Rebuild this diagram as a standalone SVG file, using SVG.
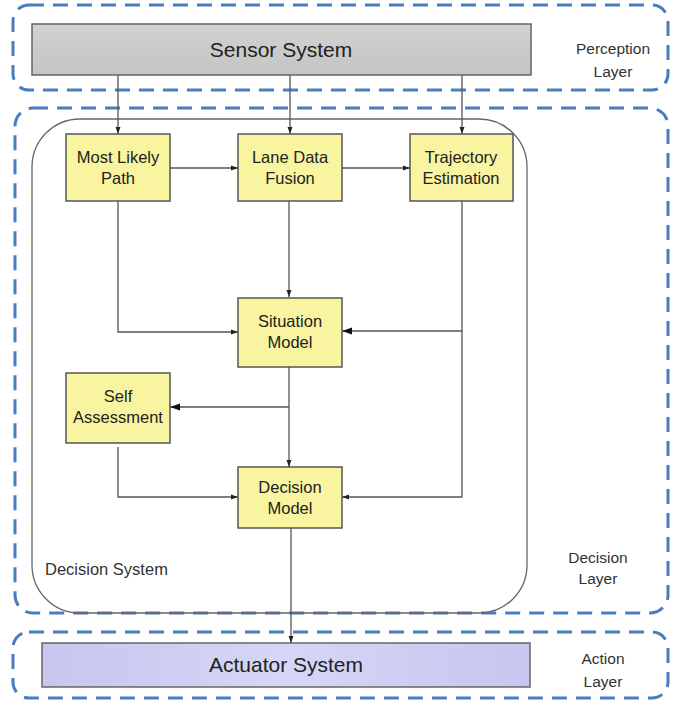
<svg xmlns="http://www.w3.org/2000/svg" width="676" height="705" viewBox="0 0 676 705">
<defs>
<linearGradient id="gGray" x1="0" y1="0" x2="0" y2="1"><stop offset="0" stop-color="#d2d2d2"/><stop offset="1" stop-color="#c4c4c4"/></linearGradient>
<linearGradient id="gLav" x1="0" y1="0" x2="1" y2="0"><stop offset="0" stop-color="#c6c6f0"/><stop offset="0.5" stop-color="#d6d6f6"/><stop offset="1" stop-color="#c6c6f0"/></linearGradient>
<marker id="ah" viewBox="0 0 10 10" refX="10" refY="5" markerWidth="7" markerHeight="7" markerUnits="userSpaceOnUse" orient="auto"><path d="M0,1.5 L10,5 L0,8.5 Z" fill="#222"/></marker>
<marker id="ahL" viewBox="0 0 10 10" refX="10" refY="5" markerWidth="14" markerHeight="10" markerUnits="userSpaceOnUse" orient="auto"><path d="M0,1.5 L10,5 L0,8.5 Z" fill="#111"/></marker>
</defs>
<style>
.layer{fill:none;stroke:#4a7cc0;stroke-width:3;stroke-dasharray:15 9}
.box{fill:#f8f4a0;stroke:#555;stroke-width:1.5}
.t{font-family:"Liberation Sans",Arial,sans-serif;fill:#222;text-anchor:middle}
.bt{font-size:16.5px}
.lt{font-size:15.5px;fill:#333}
.c{fill:none;stroke:#555;stroke-width:1.3}
</style>
<rect width="676" height="705" fill="#fff"/>
<g id="perception-layer">
<rect class="layer" x="13" y="5" width="655" height="85" rx="16"/>
<text class="t lt" x="613" y="54">Perception</text>
<text class="t lt" x="613" y="77">Layer</text>
</g>
<g id="decision-layer">
<rect class="layer" x="15" y="108" width="653" height="505" rx="18"/>
<text class="t lt" x="598" y="563">Decision</text>
<text class="t lt" x="598" y="584">Layer</text>
</g>
<g id="action-layer">
<rect class="layer" x="13" y="632" width="655" height="66" rx="16"/>
<text class="t lt" x="603" y="664">Action</text>
<text class="t lt" x="603" y="687">Layer</text>
</g>
<g id="decision-system">
<rect x="32" y="119" width="495" height="494" rx="48" fill="none" stroke="#666" stroke-width="1.3"/>
<text x="45" y="575" font-family="Liberation Sans,Arial,sans-serif" font-size="16.5" fill="#333">Decision System</text>
</g>
<g id="connectors">
<line class="c" x1="118" y1="75" x2="118" y2="134" marker-end="url(#ah)"/>
<line class="c" x1="290" y1="75" x2="290" y2="134" marker-end="url(#ah)"/>
<line class="c" x1="462" y1="75" x2="462" y2="134" marker-end="url(#ah)"/>
<line class="c" x1="170" y1="168" x2="238" y2="168" marker-end="url(#ah)"/>
<line class="c" x1="342" y1="168" x2="410" y2="168" marker-end="url(#ah)"/>
<line class="c" x1="289" y1="201" x2="289" y2="297" marker-end="url(#ah)"/>
<polyline class="c" points="118,201 118,332 238,332" marker-end="url(#ah)"/>
<polyline class="c" points="462,201 462,331 342,331" marker-end="url(#ahL)"/>
<line class="c" x1="289" y1="367" x2="289" y2="467" marker-end="url(#ah)"/>
<line class="c" x1="289" y1="407" x2="170" y2="407" marker-end="url(#ahL)"/>
<polyline class="c" points="118,447 118,497 238,497" marker-end="url(#ah)"/>
<polyline class="c" points="462,331 462,497 342,497" marker-end="url(#ah)"/>
<line class="c" x1="291" y1="528" x2="291" y2="643" marker-end="url(#ah)"/>
</g>
<g id="sensor-system">
<rect x="32" y="24" width="499" height="51" fill="url(#gGray)" stroke="#666" stroke-width="1.5"/>
<text class="t" x="281" y="57" font-size="21">Sensor System</text>
</g>
<g id="most-likely-path">
<rect class="box" x="66" y="134" width="104" height="67"/>
<text class="t bt" x="118" y="163">Most Likely</text>
<text class="t bt" x="118" y="184">Path</text>
</g>
<g id="lane-data-fusion">
<rect class="box" x="238" y="134" width="104" height="67"/>
<text class="t bt" x="290" y="163">Lane Data</text>
<text class="t bt" x="290" y="184">Fusion</text>
</g>
<g id="trajectory-estimation">
<rect class="box" x="410" y="134" width="103" height="67"/>
<text class="t bt" x="461" y="163">Trajectory</text>
<text class="t bt" x="461" y="184">Estimation</text>
</g>
<g id="situation-model">
<rect class="box" x="238" y="298" width="104" height="69"/>
<text class="t bt" x="290" y="327">Situation</text>
<text class="t bt" x="290" y="348">Model</text>
</g>
<g id="self-assessment">
<rect class="box" x="66" y="373" width="104" height="70"/>
<text class="t bt" x="118" y="402">Self</text>
<text class="t bt" x="118" y="423">Assessment</text>
</g>
<g id="decision-model">
<rect class="box" x="238" y="467" width="104" height="61"/>
<text class="t bt" x="290" y="493">Decision</text>
<text class="t bt" x="290" y="514">Model</text>
</g>
<g id="actuator-system">
<rect x="42" y="643" width="488" height="44" fill="url(#gLav)" stroke="#666" stroke-width="1.5"/>
<text class="t" x="286" y="672" font-size="21">Actuator System</text>
</g>
</svg>
